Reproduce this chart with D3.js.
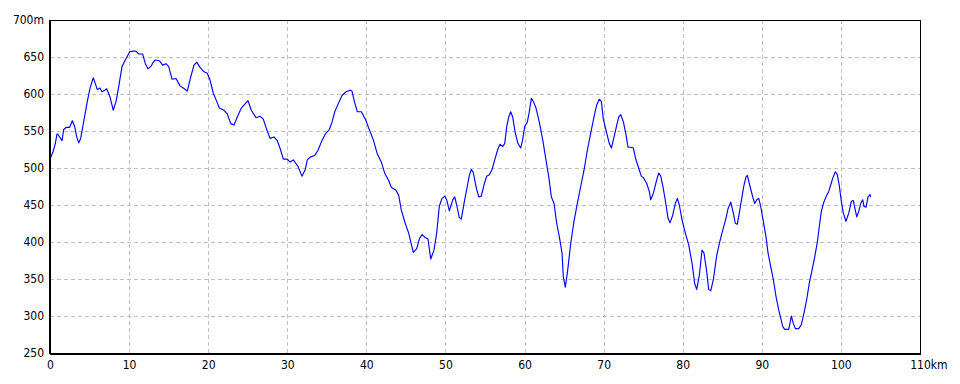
<!DOCTYPE html>
<html>
<head>
<meta charset="utf-8">
<script src="https://cdn.jsdelivr.net/npm/d3@7"></script>
<style>
  html, body { margin: 0; padding: 0; background: #fff; }
  svg { display: block; }
  text { font-family: "Liberation Sans Narrow", "DejaVu Sans Condensed", "Liberation Sans", sans-serif; font-size: 12px; fill: #000; }
</style>
</head>
<body>
<svg id="chart" width="960" height="384"></svg>
<script>
// Distance (km) of each profile sample
const distanceKm = [
  0.09,0.38,0.67,0.89,0.97,1.52,1.73,2.06,2.49,2.82,3.12,3.38,3.63,3.88,4.30,4.72,5.06,5.47,5.73,5.98,
  6.32,6.57,6.92,7.17,7.59,8.00,8.35,8.69,9.10,9.52,10.08,10.49,10.87,11.22,11.72,12.05,12.39,12.81,12.99,13.31,
  13.82,14.25,14.67,15.01,15.43,15.93,16.44,16.85,17.36,17.79,18.21,18.55,18.97,19.47,19.89,20.23,20.65,21.08,21.41,22.00,
  22.42,22.85,23.27,23.68,24.19,24.69,25.03,25.45,26.05,26.55,26.97,27.40,27.82,28.32,28.74,29.17,29.50,30.00,30.35,30.76,
  31.36,31.86,32.28,32.53,32.96,33.47,33.89,34.30,34.81,35.32,35.66,36.00,36.41,36.92,37.43,37.93,38.18,38.53,38.86,39.36,
  39.87,40.37,40.88,41.38,41.89,42.32,42.82,43.15,43.75,44.09,44.42,44.92,45.35,45.68,45.94,46.37,46.69,47.04,47.45,47.79,
  48.14,48.55,48.89,49.22,49.56,49.91,50.16,50.49,50.92,51.17,51.42,51.75,52.00,52.43,52.76,53.02,53.27,53.52,53.86,54.20,
  54.53,54.87,55.21,55.55,55.89,56.23,56.64,56.90,57.24,57.49,57.75,58.00,58.25,58.50,58.83,59.17,59.51,59.76,60.02,60.35,
  60.60,60.86,61.11,61.45,61.87,62.30,62.71,63.06,63.39,63.73,64.07,64.40,64.74,64.90,65.15,65.41,65.84,66.25,66.67,67.10,
  67.52,67.94,68.37,68.78,69.12,69.45,69.71,69.96,70.39,70.72,70.98,71.32,71.66,71.91,72.17,72.50,72.83,73.08,73.42,73.75,
  74.09,74.43,74.76,75.02,75.45,75.78,75.95,76.29,76.71,76.96,77.22,77.55,77.89,78.14,78.39,78.73,79.06,79.32,79.57,79.91,
  80.33,80.76,81.18,81.51,81.77,82.10,82.44,82.69,83.03,83.28,83.54,83.87,84.30,84.63,85.06,85.47,85.73,86.07,86.40,86.65,
  86.90,87.15,87.49,87.75,88.00,88.17,88.51,88.85,89.10,89.36,89.61,89.86,90.19,90.53,90.79,91.12,91.46,91.80,92.14,92.39,
  92.64,92.89,93.40,93.56,93.73,93.98,94.24,94.66,94.99,95.33,95.67,96.00,96.35,96.69,97.02,97.27,97.52,97.78,98.11,98.45,
  98.71,98.96,99.29,99.54,99.79,100.05,100.30,100.64,100.99,101.32,101.57,101.82,102.00,102.25,102.50,102.76,102.92,103.18,103.43,103.68,
  103.77
];
// Elevation (m) of each profile sample
const elevationM = [
  514,522,533,546,546,537,552,555,555,564,556,542,534,540,565,590,608,622,614,606,
  608,603,605,607,596,578,590,610,637,646,657,658,658,654,654,641,634,638,642,646,
  645,639,641,637,620,621,611,608,604,623,639,643,636,630,628,619,601,590,581,578,
  573,560,558,569,581,587,591,578,568,570,566,552,540,542,537,524,512,512,508,511,
  502,489,498,511,515,517,524,535,546,552,562,576,586,598,603,605,604,588,576,576,
  566,552,538,519,508,493,483,474,470,463,443,425,412,397,386,391,404,410,406,404,
  377,389,412,448,459,462,457,442,457,461,450,433,431,457,475,490,498,494,475,461,
  462,477,489,491,498,511,526,532,529,533,556,569,576,569,547,533,527,538,556,562,
  576,594,590,581,562,538,511,488,461,452,425,407,385,353,339,358,398,428,452,475,
  497,524,547,569,585,593,590,566,547,533,527,542,558,569,572,562,545,528,528,527,
  511,500,489,487,479,468,457,466,484,493,489,472,450,432,426,436,452,459,450,430,
  412,396,371,344,336,355,389,385,360,336,334,349,382,398,416,432,445,454,439,425,
  424,439,461,477,488,490,475,461,452,457,459,448,428,407,385,367,349,326,308,297,
  286,282,282,290,300,290,283,283,288,304,322,344,362,380,400,421,441,452,461,468,
  477,486,495,491,477,455,439,428,439,455,456,443,434,441,452,457,448,447,461,464,
  461
];
// Axis tick values / labels
const yTicks = [250, 300, 350, 400, 450, 500, 550, 600, 650, 700];
const xTicks = [0, 10, 20, 30, 40, 50, 60, 70, 80, 90, 100, 110];
const yUnit = "m";
const xUnit = "km";

const svg = d3.select("#chart");
const mLeft = 50, mRight = 920, mTop = 20, mBottom = 353;

const x = d3.scaleLinear().domain([0, 110]).range([mLeft, mRight]);
const y = d3.scaleLinear().domain([250, 700]).range([mBottom, mTop]);
const px = v => Math.round(v) + 0.5;

// grid
const grid = svg.append("g").attr("shape-rendering", "crispEdges")
  .attr("stroke", "#c0c0c0").attr("stroke-dasharray", "4,3").attr("stroke-width", 1);
grid.selectAll("line.h").data(yTicks.filter(d => d > 250 && d < 700)).join("line")
  .attr("class", "h")
  .attr("x1", mLeft).attr("x2", mRight)
  .attr("y1", d => px(y(d))).attr("y2", d => px(y(d)));
grid.selectAll("line.v").data(xTicks.filter(d => d > 0 && d < 110)).join("line")
  .attr("class", "v")
  .attr("y1", mTop).attr("y2", mBottom)
  .attr("x1", d => px(x(d))).attr("x2", d => px(x(d)));

// profile line
const data = distanceKm.map((k, i) => [k, elevationM[i]]);
svg.append("path").datum(data)
  .attr("fill", "none").attr("stroke", "#0000ff").attr("stroke-width", 1.15)
  .attr("stroke-linejoin", "round")
  .attr("d", d3.line().x(d => x(d[0])).y(d => y(d[1])));

// frame
const frame = svg.append("g").attr("shape-rendering", "crispEdges").attr("stroke", "#000").attr("fill", "none");
frame.append("rect").attr("x", px(mLeft)).attr("y", px(mTop))
  .attr("width", mRight - mLeft).attr("height", mBottom - mTop).attr("stroke-width", 1);
frame.append("line").attr("x1", mLeft).attr("x2", mLeft).attr("y1", mTop).attr("y2", mBottom + 1).attr("stroke-width", 2);
frame.append("line").attr("x1", mLeft).attr("x2", mRight + 1).attr("y1", mBottom + 1).attr("y2", mBottom + 1).attr("stroke-width", 2);

// y axis labels
const yAxis = d3.axisLeft(y).tickValues(yTicks).tickSize(0).tickPadding(6)
  .tickFormat(d => d === 700 ? d + yUnit : d);
const ya = svg.append("g").attr("transform", `translate(${mLeft},0)`).call(yAxis);
ya.select(".domain").remove();
ya.attr("font-family", null).attr("font-size", null);

// x axis labels
const xAxis = d3.axisBottom(x).tickValues(xTicks).tickSize(0).tickPadding(7).tickFormat(d => d);
const xa = svg.append("g").attr("transform", `translate(0,${mBottom})`).call(xAxis);
xa.select(".domain").remove();
xa.attr("font-family", null).attr("font-size", null);
// unit after last x label
const lastTick = xa.selectAll(".tick").filter(d => d === 110);
const lastText = lastTick.select("text");
const w = lastText.node().getComputedTextLength();
lastTick.append("text").attr("x", w / 2).attr("y", lastText.attr("y")).attr("dy", lastText.attr("dy"))
  .attr("fill", "#000").attr("text-anchor", "start").text(xUnit);
</script>
</body>
</html>
